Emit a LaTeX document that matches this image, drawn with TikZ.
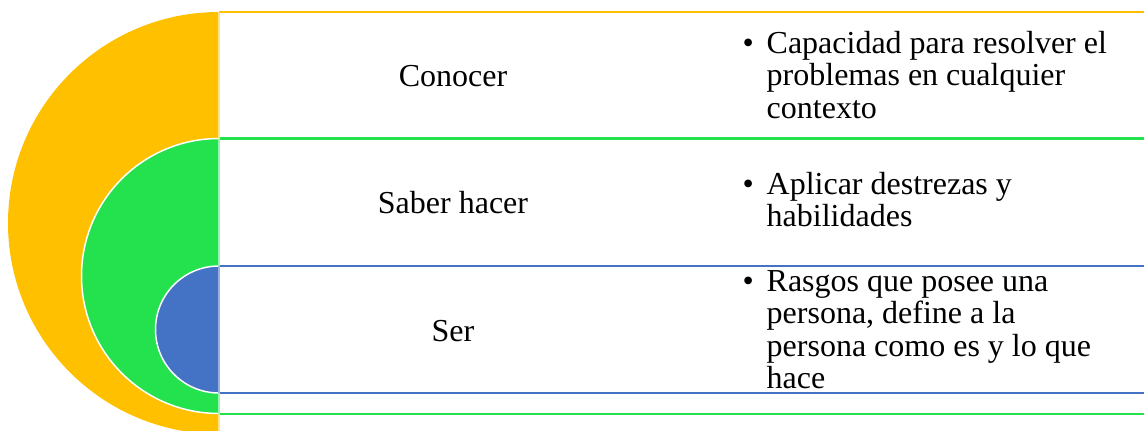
\documentclass[tikz,border=0pt]{standalone}
\usepackage{fontspec}
\setmainfont{Liberation Serif}
\definecolor{yel}{HTML}{FFC000}
\definecolor{grn}{HTML}{23E24D}
\definecolor{blu}{HTML}{4472C4}
\tikzset{
  rule/.style={line width=2.2pt},
  edge/.style={line width=1.2pt},
  disk/.style={draw=white, line width=1.5pt},
  lbl/.style={inner sep=0pt, font=\fontsize{32}{32.3}\selectfont},
  bul/.style={inner sep=0pt, anchor=base west, font=\fontsize{32}{32.3}\selectfont},
}
\newcommand{\bulpar}[1]{\parbox[t]{400pt}{\hangindent=24pt\hangafter=1\noindent\makebox[24pt][l]{\textbullet}#1}}
\begin{document}
\begin{tikzpicture}[x=1pt,y=1pt,yscale=-1]
\useasboundingbox (0,0) rectangle (1144,431);
\clip (0,0) rectangle (1144,431);
% yellow
\begin{scope}
  \clip (0,0) rectangle (219.5,431);
  \fill[yel] (219,223) circle[radius=211];
\end{scope}
\draw[yel, rule] (218.5,12) -- (1144,12);
% green
\begin{scope}
  \clip (0,0) rectangle (219.5,431);
  \filldraw[fill=grn, disk] (219,276) circle[radius=137.5];
\end{scope}
\draw[grn, rule] (218.5,138.5) -- (1144,138.5);
\draw[grn, rule] (218.5,414.3) -- (1144,414.3);
% blue
\begin{scope}
  \clip (0,0) rectangle (219.5,431);
  \filldraw[fill=blu, disk] (219,329.5) circle[radius=63.5];
\end{scope}
\draw[blu, rule] (218.5,265.7) -- (1144,265.7);
\draw[blu, rule] (218.5,393.3) -- (1144,393.3);
% left edges
\draw[yel!45!white, edge] (219,12) -- (219,431);
\draw[grn!45!white, edge] (219,138.5) -- (219,414.3);
\draw[blu!55!white, edge] (219,265.7) -- (219,393.3);
% labels
\node[lbl] (conocer) at (453,76) {Conocer};
\node[lbl] (saber) at (453,203) {Saber hacer};
\node[lbl] (ser) at (453,331) {Ser};
\node[bul] (b1) at (742.5,53.5) {\bulpar{Capacidad para resolver el\\problemas en cualquier\\contexto}};
\node[bul] (b2) at (742.5,194.5) {\bulpar{Aplicar destrezas y\\habilidades}};
\node[bul] (b3) at (742.5,291.5) {\bulpar{Rasgos que posee una\\persona, define a la\\persona como es y lo que\\hace}};
\end{tikzpicture}
\end{document}
